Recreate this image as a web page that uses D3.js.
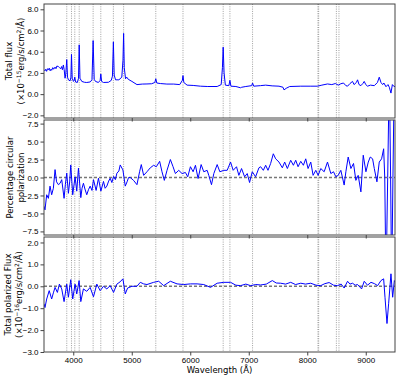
<!DOCTYPE html>
<html>
<head>
<meta charset="utf-8">
<script src="https://cdn.jsdelivr.net/npm/d3@7"></script>
<style>
  body { margin: 0; background: #fff; }
  svg { font-family: "DejaVu Sans", sans-serif; }
</style>
</head>
<body>
<div id="chart"></div>
<script>
// frame
const FRAME_WIDTH = 399;
const FRAME_HEIGHT = 378;
const LEFT = 44, RIGHT = 395;

// data: [wavelength (Å), value]
const FLUX = [[3500,2.3],[3517,2.2],[3530,2.35],[3545,2.15],[3560,2.4],[3574,2.3],[3590,2.45],[3605,2.2],[3620,2.35],[3631,2.25],[3650,2.5],[3665,2.35],[3689,2.55],[3705,2.4],[3720,2.65],[3746,2.6],[3765,2.5],[3786,2.4],[3800,2.6],[3815,2.3],[3831,2.75],[3845,2.3],[3860,1.5],[3872,1.9],[3889,3.26],[3902,1.6],[3917,1.35],[3946,1.25],[3960,1.6],[3970,3.75],[3982,1.5],[4003,1.2],[4015,1.3],[4026,1.6],[4040,1.15],[4070,1.1],[4090,1.5],[4102,4.65],[4115,1.5],[4146,1.2],[4190,1.12],[4231,1.1],[4290,1.15],[4320,1.35],[4340,5.05],[4358,1.4],[4380,1.2],[4430,1.1],[4460,1.3],[4471,1.9],[4485,1.2],[4517,1.1],[4603,1.12],[4650,1.3],[4670,1.7],[4686,4.93],[4700,1.8],[4723,1.35],[4780,1.35],[4830,1.6],[4850,3.2],[4861,5.73],[4872,2.5],[4894,1.45],[4915,1.6],[4940,1.4],[5003,1.2],[5089,0.9],[5180,0.95],[5260,0.96],[5340,0.98],[5395,1.1],[5411,1.45],[5428,1.05],[5489,1.0],[5600,0.95],[5717,0.95],[5820,0.9],[5865,1.3],[5876,1.75],[5890,1.1],[5946,0.85],[6050,0.82],[6174,0.75],[6300,0.72],[6460,0.72],[6529,0.9],[6550,2.5],[6563,4.43],[6578,2.0],[6600,0.85],[6660,0.8],[6678,1.3],[6695,0.75],[6780,0.72],[6860,0.6],[6880,0.65],[6950,0.72],[7050,0.8],[7065,1.05],[7085,0.75],[7200,0.8],[7289,0.85],[7400,0.78],[7517,0.75],[7585,0.65],[7603,0.4],[7640,0.55],[7700,0.72],[7889,0.75],[8050,0.75],[8174,0.75],[8250,0.85],[8346,0.96],[8420,0.9],[8480,1.0],[8530,0.85],[8574,0.98],[8620,1.05],[8660,0.8],[8689,0.75],[8730,1.0],[8774,1.2],[8800,0.9],[8840,1.1],[8860,1.35],[8885,0.9],[8917,0.8],[8950,1.0],[8974,1.2],[9000,0.9],[9031,0.75],[9080,0.85],[9146,0.8],[9200,1.1],[9231,1.6],[9260,1.1],[9289,0.9],[9310,1.05],[9346,0.7],[9380,0.9],[9403,0.65],[9431,0.1],[9455,0.9],[9477,0.75],[9500,0.7]];

const CIRC_POL = [[3500,-4.0],[3517,-4.5],[3546,-2.4],[3575,-2.9],[3603,-1.2],[3631,-2.4],[3660,-1.5],[3689,1.1],[3715,-0.6],[3746,-1.0],[3775,-0.8],[3803,-0.3],[3843,-2.9],[3865,-1.0],[3889,0.6],[3917,-2.2],[3940,-0.5],[3957,1.75],[3991,-2.4],[4031,0.1],[4060,-1.9],[4089,1.3],[4129,-2.8],[4150,-1.5],[4174,-0.8],[4200,-1.6],[4231,-2.4],[4260,-1.7],[4289,-1.2],[4320,-1.8],[4346,-0.3],[4391,-1.8],[4431,-0.1],[4472,-1.9],[4517,-0.55],[4545,-1.5],[4574,-1.2],[4605,-0.5],[4631,-0.1],[4660,-0.7],[4689,0.15],[4720,-0.3],[4746,0.6],[4780,0.9],[4803,1.75],[4849,1.05],[4889,-1.2],[4920,-0.6],[4946,0],[4974,0],[5031,-0.4],[5089,-1.0],[5134,0.8],[5163,1.8],[5203,0.3],[5260,0.8],[5317,1.35],[5374,1.7],[5420,1.5],[5477,2.25],[5517,0.8],[5557,-0.4],[5603,1.0],[5660,2.5],[5706,1.5],[5746,0.55],[5803,1.0],[5860,0.55],[5917,0.7],[5957,0.1],[6003,1.5],[6049,0.8],[6089,1.7],[6134,-0.15],[6186,1.8],[6231,0.8],[6289,1.0],[6317,0.3],[6363,-1.0],[6403,0.55],[6460,1.8],[6506,0.8],[6574,1.0],[6631,1.0],[6689,2.15],[6734,1.0],[6791,1.5],[6831,0.3],[6877,1.25],[6929,0.1],[6974,0.55],[7014,-0.7],[7060,0.8],[7117,0.1],[7174,1.35],[7203,1.5],[7249,1.0],[7289,1.7],[7329,1.0],[7374,1.95],[7420,3.3],[7460,2.6],[7517,2.15],[7574,1.35],[7614,2.15],[7660,1.25],[7717,2.4],[7763,1.7],[7803,2.4],[7843,1.5],[7889,2.25],[7934,1.7],[7974,2.6],[8014,1.25],[8060,2.15],[8100,0.3],[8146,1.0],[8186,0.3],[8231,1.25],[8289,0.8],[8346,2.15],[8403,0.55],[8449,0.8],[8489,0.1],[8529,0.3],[8574,1.0],[8631,-1.05],[8660,0.8],[8700,2.85],[8746,1.25],[8791,1.95],[8831,-0.4],[8871,0.3],[8917,-2.0],[8957,3.1],[9003,0.8],[9043,2.15],[9077,2.85],[9117,2.6],[9146,1.25],[9191,-0.6],[9231,2.15],[9271,2.6],[9306,4.0],[9325,0],[9346,-15],[9375,0],[9403,15],[9425,0],[9443,-15],[9465,0],[9489,15],[9500,10]];

const POL_FLUX = [[3500,-0.8],[3517,-0.97],[3546,-0.58],[3589,-0.2],[3631,-0.58],[3660,-0.3],[3689,-0.05],[3729,-0.28],[3763,0.1],[3803,-0.12],[3843,-0.7],[3889,0.1],[3917,-0.5],[3957,0.3],[3991,-0.58],[4031,0.1],[4060,-0.35],[4100,0.26],[4129,-0.7],[4174,-0.12],[4231,-0.23],[4289,-0.05],[4346,-0.48],[4403,0.1],[4460,-0.2],[4517,0],[4574,-0.12],[4631,0.03],[4689,-0.28],[4746,0.1],[4800,0.2],[4849,0.34],[4889,-0.35],[4929,-0.08],[5003,0],[5089,0],[5146,0.18],[5203,0.11],[5260,0.08],[5374,0.18],[5460,0.23],[5546,0.03],[5660,0.23],[5774,0.11],[5889,0.08],[6003,0.11],[6117,0.11],[6231,0.08],[6346,-0.05],[6460,0.14],[6574,0.18],[6689,0.18],[6780,0.05],[6860,0.03],[6950,0.1],[7031,0.03],[7120,0.08],[7203,0.06],[7300,0.1],[7403,0.26],[7470,0.15],[7546,0.14],[7630,0.1],[7717,0.18],[7800,0.08],[7889,0.14],[7970,0.1],[8060,0.14],[8150,0.05],[8231,0.03],[8300,0.12],[8374,0.17],[8450,0.05],[8517,0.03],[8580,0.1],[8631,-0.08],[8689,0.23],[8730,0.1],[8774,0.14],[8820,0.05],[8860,0.08],[8929,-0.12],[8974,0.23],[9030,0.05],[9089,0.18],[9150,0.12],[9203,0.03],[9260,0.26],[9306,0.34],[9329,-0.5],[9363,-1.7],[9391,-0.8],[9431,0.57],[9460,-0.5],[9489,0.26],[9500,0.2]];

// marked line positions (Å)
const LINE_WAVES = [3889, 3970, 4026, 4102, 4340, 4471, 4686, 4861, 5411, 5876, 6563, 6678, 7065, 8183, 8195, 8498, 8542];

const X_TICKS = [4000, 5000, 6000, 7000, 8000, 9000];
const FLUX_TICKS = [-2, 0, 2, 4, 6, 8];
const POL_TICKS = [-7.5, -5, -2.5, 0, 2.5, 5, 7.5];
const PFLUX_TICKS = [-3, -2, -1, 0, 1, 2];

const X_SCALE = d3.scaleLinear().domain([3500, 9500]).range([LEFT, RIGHT]);

const PANELS = [
  {data: FLUX, domain: [-2.25, 8.5], top: 4, bottom: 118, ticks: FLUX_TICKS, zero: false,
   label: ["Total flux", ["(×10", "−15", "erg/s/cm", "2", "/Å)"]], lx: [9, 21]},
  {data: CIRC_POL, domain: [-8, 8], top: 120, bottom: 235, ticks: POL_TICKS, zero: true,
   label: ["Percentage circular", "polarization"], lx: [10, 21]},
  {data: POL_FLUX, domain: [-3, 2.25], top: 237, bottom: 352, ticks: PFLUX_TICKS, zero: true,
   label: ["Total polarized Flux", ["(×10", "−16", "erg/s/cm", "2", "/Å)"]], lx: [8, 19]}
];

const FRAME = d3.select("#chart")
  .append("svg")
  .attr("width", FRAME_WIDTH)
  .attr("height", FRAME_HEIGHT);

PANELS.forEach((p, i) => {
  const Y_SCALE = d3.scaleLinear().domain(p.domain).range([p.bottom, p.top]);
  const g = FRAME.append("g");

  g.append("clipPath").attr("id", "clip" + i)
    .append("rect")
    .attr("x", LEFT).attr("y", p.top)
    .attr("width", RIGHT - LEFT).attr("height", p.bottom - p.top);

  // dotted line markers
  g.selectAll(".vline")
    .data(LINE_WAVES)
    .enter()
    .append("line")
      .attr("x1", d => X_SCALE(d)).attr("x2", d => X_SCALE(d))
      .attr("y1", p.top).attr("y2", p.bottom)
      .style("stroke", "#888")
      .style("stroke-width", 0.8)
      .style("stroke-dasharray", "1,1.3");

  if (p.zero) {
    g.append("line")
      .attr("x1", LEFT).attr("x2", RIGHT)
      .attr("y1", Y_SCALE(0)).attr("y2", Y_SCALE(0))
      .style("stroke", "#777")
      .style("stroke-width", 1.4)
      .style("stroke-dasharray", "3,2");
  }

  const line = d3.line().x(d => X_SCALE(d[0])).y(d => Y_SCALE(d[1]));
  g.append("path")
    .datum(p.data)
    .attr("clip-path", "url(#clip" + i + ")")
    .attr("d", line)
    .style("fill", "none")
    .style("stroke", "#0000ff")
    .style("stroke-width", 1);

  // y axis
  const yAxis = g.append("g")
    .attr("transform", "translate(" + LEFT + ",0)")
    .call(d3.axisLeft(Y_SCALE).tickValues(p.ticks).tickFormat(d3.format(".1f")).tickSize(3.5).tickPadding(2));
  yAxis.select(".domain").remove();

  // x axis (labels only on last panel)
  const xAxis = g.append("g")
    .attr("transform", "translate(0," + p.bottom + ")")
    .call(d3.axisBottom(X_SCALE).tickValues(X_TICKS).tickSize(3.5).tickPadding(2)
      .tickFormat(i === 2 ? d3.format("d") : ""));
  xAxis.select(".domain").remove();

  g.selectAll(".tick text").style("font-size", "8px").attr("fill", "#000");
  g.selectAll(".tick line").attr("stroke", "#444");

  // frame
  g.append("rect")
    .attr("x", LEFT).attr("y", p.top)
    .attr("width", RIGHT - LEFT).attr("height", p.bottom - p.top)
    .style("fill", "none")
    .style("stroke", "#444")
    .style("stroke-width", 1);

  // y label, two lines
  const cy = (p.top + p.bottom) / 2;
  p.label.forEach((txt, k) => {
    const t = g.append("text")
      .attr("transform", "translate(" + p.lx[k] + "," + cy + ") rotate(-90)")
      .attr("text-anchor", "middle")
      .attr("dy", "0.35em")
      .style("font-size", "8.5px");
    if (typeof txt === "string") {
      t.text(txt);
    } else {
      t.append("tspan").text(txt[0]);
      t.append("tspan").attr("dy", -3).style("font-size", "6px").text(txt[1]);
      t.append("tspan").attr("dy", 3).text(txt[2]);
      t.append("tspan").attr("dy", -3).style("font-size", "6px").text(txt[3]);
      t.append("tspan").attr("dy", 3).text(txt[4]);
    }
  });
});

// x label
FRAME.append("text")
  .attr("x", (LEFT + RIGHT) / 2)
  .attr("y", 373)
  .attr("text-anchor", "middle")
  .style("font-size", "8.5px")
  .text("Wavelength (Å)");
</script>
</body>
</html>
